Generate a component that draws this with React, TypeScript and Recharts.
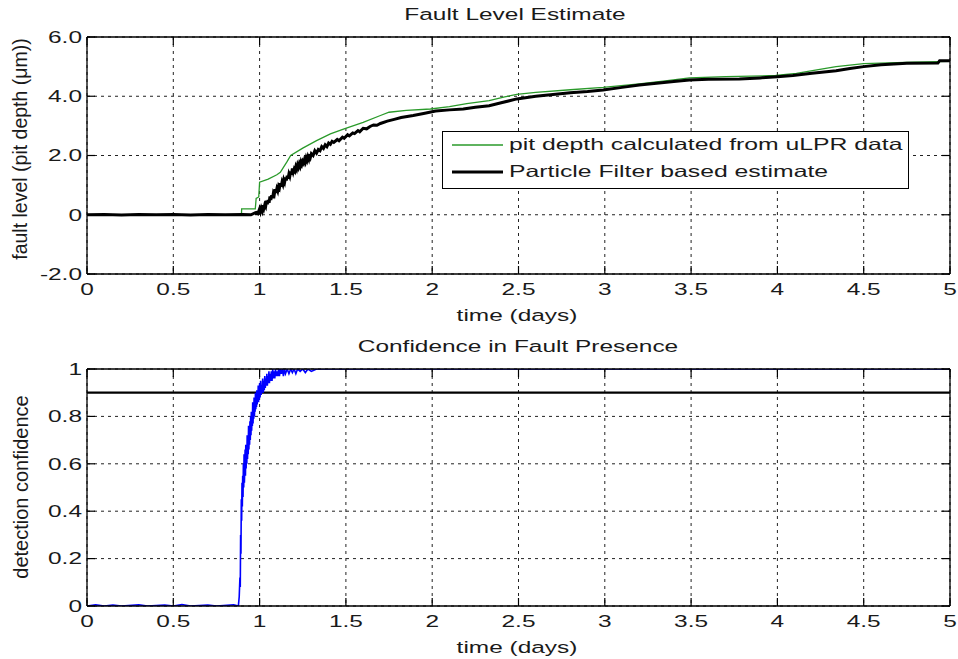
import React from 'react';
import { LineChart, Line, XAxis, YAxis, CartesianGrid, ReferenceLine, Legend } from 'recharts';

// ---- data ----
const timeTicks = [0, 0.5, 1, 1.5, 2, 2.5, 3, 3.5, 4, 4.5, 5];
const depthTicks = [-2, 0, 2, 4, 6];
const confTicks = [0, 0.2, 0.4, 0.6, 0.8, 1];
const detectionThreshold = 0.9;

// pit depth calculated from uLPR data  [time (days), depth (um)]
const uLprPairs: [number, number][] = [
  [0, 0], [0.3, 0], [0.6, 0], [0.895, 0], [0.896, 0.2], [0.975, 0.2], [0.98, 0.55], [0.995, 0.6],
  [1.0, 1.1], [1.05, 1.2], [1.1, 1.35], [1.12, 1.43], [1.16, 1.8], [1.18, 2.0], [1.25, 2.25],
  [1.33, 2.5], [1.41, 2.73], [1.49, 2.9], [1.6, 3.12], [1.7, 3.35], [1.75, 3.46], [1.85, 3.52],
  [1.99, 3.57], [2.1, 3.65], [2.2, 3.75], [2.33, 3.85], [2.42, 3.98], [2.49, 4.06], [2.6, 4.13],
  [2.8, 4.22], [2.99, 4.3], [3.2, 4.42], [3.35, 4.52], [3.49, 4.62], [3.7, 4.66], [3.99, 4.7],
  [4.11, 4.77], [4.22, 4.88], [4.34, 5.0], [4.5, 5.1], [4.79, 5.15], [5.0, 5.18],
];

// Particle Filter based estimate  [time (days), depth (um)]
const pfPairs: [number, number][] = [
  [0, 0], [0.1, 0.01], [0.2, -0.01], [0.3, 0.01], [0.4, 0], [0.5, 0.01], [0.6, -0.01], [0.7, 0.01],
  [0.8, 0], [0.9, 0.01], [0.95, 0], [0.98, 0.08], [0.99, 0.04], [1.0, 0.2], [1.005, 0.1], [1.01, 0.22],
  [1.015, 0.14], [1.02, 0.32], [1.025, 0.22], [1.03, 0.34], [1.035, 0.28], [1.04, 0.47], [1.045, 0.36],
  [1.05, 0.5], [1.055, 0.4], [1.06, 0.62], [1.065, 0.5], [1.07, 0.66], [1.075, 0.56], [1.08, 0.74],
  [1.085, 0.68], [1.09, 0.86], [1.095, 0.74], [1.1, 0.88], [1.105, 0.8], [1.11, 0.96], [1.115, 0.9],
  [1.12, 1.06], [1.125, 0.95], [1.13, 1.1], [1.135, 1.02], [1.14, 1.18], [1.145, 1.1], [1.15, 1.26],
  [1.155, 1.16], [1.16, 1.32], [1.165, 1.22], [1.17, 1.38], [1.175, 1.3], [1.18, 1.46], [1.185, 1.36],
  [1.19, 1.56], [1.195, 1.44], [1.2, 1.54], [1.205, 1.48], [1.21, 1.62], [1.215, 1.54], [1.22, 1.68],
  [1.225, 1.6], [1.23, 1.72], [1.235, 1.64], [1.24, 1.78], [1.245, 1.7], [1.25, 1.8], [1.255, 1.74],
  [1.26, 1.86], [1.265, 1.78], [1.27, 1.92], [1.275, 1.84], [1.28, 1.96], [1.285, 1.88], [1.29, 2.04],
  [1.295, 1.95], [1.3, 2.06], [1.31, 2.0], [1.32, 2.16], [1.33, 2.08], [1.34, 2.2], [1.35, 2.16],
  [1.36, 2.3], [1.37, 2.24], [1.38, 2.36], [1.39, 2.3], [1.4, 2.42], [1.41, 2.38], [1.42, 2.48],
  [1.43, 2.44], [1.45, 2.54], [1.46, 2.5], [1.48, 2.62], [1.49, 2.58], [1.51, 2.7], [1.52, 2.66],
  [1.54, 2.76], [1.55, 2.74], [1.57, 2.84], [1.58, 2.8], [1.6, 2.92], [1.62, 2.9], [1.64, 2.98],
  [1.66, 3.03], [1.68, 3.02], [1.7, 3.08], [1.74, 3.16], [1.78, 3.22], [1.82, 3.28], [1.89, 3.35],
  [1.95, 3.42], [2.02, 3.5], [2.1, 3.54], [2.18, 3.57], [2.25, 3.63], [2.33, 3.68], [2.4, 3.78],
  [2.49, 3.91], [2.6, 4.0], [2.7, 4.06], [2.8, 4.12], [2.9, 4.16], [2.99, 4.21], [3.1, 4.3],
  [3.2, 4.38], [3.3, 4.44], [3.4, 4.5], [3.49, 4.55], [3.6, 4.57], [3.78, 4.58], [3.9, 4.62],
  [4.0, 4.66], [4.09, 4.7], [4.2, 4.78], [4.34, 4.86], [4.42, 4.94], [4.5, 5.0], [4.6, 5.06],
  [4.75, 5.11], [4.93, 5.12], [4.94, 5.2], [5.0, 5.2],
];

// detection confidence  [time (days), confidence]
const confPairs: [number, number][] = [
  [0, 0], [0.05, 0.005], [0.1, 0], [0.15, 0.004], [0.2, 0], [0.3, 0.005], [0.35, 0], [0.45, 0.004],
  [0.5, 0], [0.55, 0.006], [0.6, 0], [0.7, 0.004], [0.75, 0], [0.85, 0.005], [0.877, 0],
  [0.882, 0.04], [0.886, 0.12], [0.888, 0.08], [0.89, 0.3], [0.892, 0.22], [0.894, 0.45], [0.896, 0.36],
  [0.898, 0.52], [0.9, 0.42], [0.902, 0.55], [0.904, 0.46], [0.906, 0.6], [0.908, 0.5], [0.91, 0.64],
  [0.912, 0.52], [0.914, 0.58], [0.916, 0.66], [0.918, 0.55], [0.92, 0.68], [0.922, 0.58], [0.924, 0.66],
  [0.926, 0.6], [0.928, 0.72], [0.93, 0.62], [0.932, 0.7], [0.934, 0.64], [0.936, 0.76], [0.938, 0.66],
  [0.94, 0.74], [0.942, 0.68], [0.944, 0.78], [0.946, 0.7], [0.948, 0.8], [0.95, 0.72], [0.952, 0.82],
  [0.954, 0.74], [0.956, 0.8], [0.958, 0.76], [0.96, 0.86], [0.962, 0.77], [0.964, 0.84], [0.966, 0.79],
  [0.968, 0.88], [0.97, 0.8], [0.972, 0.86], [0.974, 0.82], [0.976, 0.9], [0.978, 0.83], [0.98, 0.88],
  [0.982, 0.84], [0.984, 0.91], [0.986, 0.85], [0.988, 0.9], [0.99, 0.86], [0.992, 0.93], [0.994, 0.86],
  [0.996, 0.9], [0.998, 0.87], [1.0, 0.94], [1.003, 0.88], [1.006, 0.95], [1.009, 0.89], [1.012, 0.93],
  [1.015, 0.9], [1.018, 0.96], [1.021, 0.9], [1.024, 0.95], [1.027, 0.91], [1.03, 0.97], [1.033, 0.92],
  [1.036, 0.96], [1.039, 0.93], [1.042, 0.98], [1.045, 0.93], [1.048, 0.97], [1.051, 0.94], [1.054, 0.99],
  [1.057, 0.94], [1.06, 0.98], [1.064, 0.95], [1.068, 0.99], [1.072, 0.95], [1.076, 1.0], [1.08, 0.96],
  [1.084, 0.99], [1.088, 0.96], [1.092, 1.0], [1.096, 0.97], [1.1, 0.99], [1.105, 0.97], [1.11, 1.0],
  [1.115, 0.97], [1.12, 1.0], [1.126, 0.98], [1.132, 1.0], [1.138, 0.97], [1.144, 1.0], [1.15, 0.98],
  [1.16, 1.0], [1.17, 0.98], [1.18, 1.0], [1.19, 0.985], [1.2, 1.0], [1.21, 0.98], [1.22, 1.0],
  [1.235, 0.99], [1.25, 1.0], [1.265, 0.985], [1.28, 1.0], [1.3, 0.99], [1.33, 1.0], [5.0, 1.0],
];

const legendItems = [
  { label: 'pit depth calculated from uLPR data', color: '#2a9a2a', w: 1.3 },
  { label: 'Particle Filter based estimate', color: '#000000', w: 3 },
];

const toRows = (pairs: [number, number][]) => pairs.map(([t, v]) => ({ t, v }));
const uLprData = toRows(uLprPairs);
const pfData = toRows(pfPairs);
const confData = toRows(confPairs);

const FONT = '"Liberation Sans", Arial, sans-serif';
const TXT = '#1a1a1a';
const TICK_LEN = 8;

const fmtTime = (v: number) => String(v);
const fmtDepth = (v: number) => (v === 0 ? '0' : v.toFixed(1));
const fmtConf = (v: number) => String(v);

const BottomTick = (p: any) => (
  <g>
    <line x1={p.x} y1={p.y} x2={p.x} y2={p.y - TICK_LEN} stroke="#000" strokeWidth={1.2} />
    <text transform={`translate(${p.x},${p.y + 15}) scale(1.5,1)`} textAnchor="middle" dominantBaseline="central" fontSize={16.3} fontFamily={FONT} fill={TXT}>
      {fmtTime(p.payload.value)}
    </text>
  </g>
);
const TopTick = (p: any) => (
  <line x1={p.x} y1={p.y} x2={p.x} y2={p.y + TICK_LEN} stroke="#000" strokeWidth={1.2} />
);
const makeLeftTick = (fmt: (v: number) => string) => (p: any) => (
  <g>
    <line x1={p.x} y1={p.y} x2={p.x + TICK_LEN} y2={p.y} stroke="#000" strokeWidth={1.2} />
    <text transform={`translate(${p.x - 5},${p.y}) scale(1.5,1)`} textAnchor="end" dominantBaseline="central" fontSize={16.3} fontFamily={FONT} fill={TXT}>
      {fmt(p.payload.value)}
    </text>
  </g>
);
const RightTick = (p: any) => (
  <line x1={p.x} y1={p.y} x2={p.x - TICK_LEN} y2={p.y} stroke="#000" strokeWidth={1.2} />
);
const DepthTick = makeLeftTick(fmtDepth);
const ConfTick = makeLeftTick(fmtConf);

const Label = ({ x, y, text, rotate, size = 16.3 }: any) => (
  <div
    style={{
      position: 'absolute', left: x, top: y, whiteSpace: 'nowrap', lineHeight: 1, fontSize: size,
      color: TXT, fontFamily: FONT,
      transform: rotate ? 'translate(-50%,-50%) rotate(-90deg)' : 'translate(-50%,-50%) scaleX(1.5)',
    }}
  >
    {text}
  </div>
);

const renderLegend = () => (
  <div style={{ width: 467, height: 58, border: '1.5px solid #000', background: '#fff', boxSizing: 'border-box', position: 'relative' }}>
    {legendItems.map((it, i) => (
      <div key={i} style={{ position: 'absolute', left: 0, top: 0.5 + i * 27, height: 24, display: 'flex', alignItems: 'center' }}>
        <svg width={66} height={24} style={{ display: 'block' }}>
          <line x1={9} x2={60} y1={12} y2={12} stroke={it.color} strokeWidth={it.w} />
        </svg>
        <span style={{ display: 'inline-block', fontSize: 16.5, fontFamily: FONT, color: TXT, transform: 'scaleX(1.5)', transformOrigin: 'left center', whiteSpace: 'nowrap', lineHeight: 1 }}>
          {it.label}
        </span>
      </div>
    ))}
  </div>
);

const gridProps = { stroke: '#222', strokeDasharray: '3 4', strokeWidth: 1 };
const axisLine = { stroke: '#000', strokeWidth: 1.3 };

export default function App() {
  return (
    <div style={{ position: 'absolute', left: 0, top: 0, width: 958, height: 659, background: '#fff', fontFamily: FONT, overflow: 'hidden' }}>
      {/* Top chart */}
      <div style={{ position: 'absolute', left: 0, top: 0 }}>
        <LineChart width={958} height={330} margin={{ top: 36, right: 7, left: 27, bottom: 26 }}>
          <CartesianGrid {...gridProps} />
          <XAxis dataKey="t" type="number" domain={[0, 5]} ticks={timeTicks} interval={0} height={30}
            axisLine={axisLine} tickLine={false} tickSize={0} tickMargin={0} tick={BottomTick} allowDataOverflow />
          <XAxis xAxisId="top" orientation="top" dataKey="t" type="number" domain={[0, 5]} ticks={timeTicks} interval={0} height={1}
            axisLine={axisLine} tickLine={false} tickSize={0} tickMargin={0} tick={TopTick} allowDataOverflow />
          <YAxis type="number" domain={[-2, 6]} ticks={depthTicks} interval={0} width={60}
            axisLine={axisLine} tickLine={false} tickSize={0} tickMargin={0} tick={DepthTick} allowDataOverflow />
          <YAxis yAxisId="right" orientation="right" type="number" domain={[-2, 6]} ticks={depthTicks} interval={0} width={1}
            axisLine={axisLine} tickLine={false} tickSize={0} tickMargin={0} tick={RightTick} allowDataOverflow />
          <Line data={uLprData} dataKey="v" type="linear" stroke="#2a9a2a" strokeWidth={1.3} dot={false} isAnimationActive={false} name="uLPR" />
          <Line data={pfData} dataKey="v" type="linear" stroke="#000" strokeWidth={3} dot={false} isAnimationActive={false} name="PF" />
          <Legend content={renderLegend} layout="horizontal" verticalAlign="middle" align="center"
            wrapperStyle={{ left: 442, top: 131, width: 467, height: 58 }} />
        </LineChart>
      </div>

      {/* Bottom chart */}
      <div style={{ position: 'absolute', left: 0, top: 330 }}>
        <LineChart width={958} height={329} margin={{ top: 38, right: 7, left: 27, bottom: 23 }}>
          <CartesianGrid {...gridProps} />
          <XAxis dataKey="t" type="number" domain={[0, 5]} ticks={timeTicks} interval={0} height={30}
            axisLine={axisLine} tickLine={false} tickSize={0} tickMargin={0} tick={BottomTick} allowDataOverflow />
          <XAxis xAxisId="top" orientation="top" dataKey="t" type="number" domain={[0, 5]} ticks={timeTicks} interval={0} height={1}
            axisLine={axisLine} tickLine={false} tickSize={0} tickMargin={0} tick={TopTick} allowDataOverflow />
          <YAxis type="number" domain={[0, 1]} ticks={confTicks} interval={0} width={60}
            axisLine={axisLine} tickLine={false} tickSize={0} tickMargin={0} tick={ConfTick} allowDataOverflow />
          <YAxis yAxisId="right" orientation="right" type="number" domain={[0, 1]} ticks={confTicks} interval={0} width={1}
            axisLine={axisLine} tickLine={false} tickSize={0} tickMargin={0} tick={RightTick} allowDataOverflow />
          <ReferenceLine y={detectionThreshold} stroke="#000" strokeWidth={2.2} />
          <Line data={confData} dataKey="v" type="linear" stroke="#0000ff" strokeWidth={1.6} dot={false} isAnimationActive={false} name="confidence" />
        </LineChart>
      </div>

      <Label x={515} y={14} text="Fault Level Estimate" />
      <Label x={517} y={315} text="time (days)" />
      <Label x={21} y={149} text="fault level (pit depth (μm))" rotate size={19.5} />
      <Label x={518} y={346} text="Confidence in Fault Presence" />
      <Label x={517} y={647} text="time (days)" />
      <Label x={21} y={487} text="detection confidence" rotate size={20} />
    </div>
  );
}
